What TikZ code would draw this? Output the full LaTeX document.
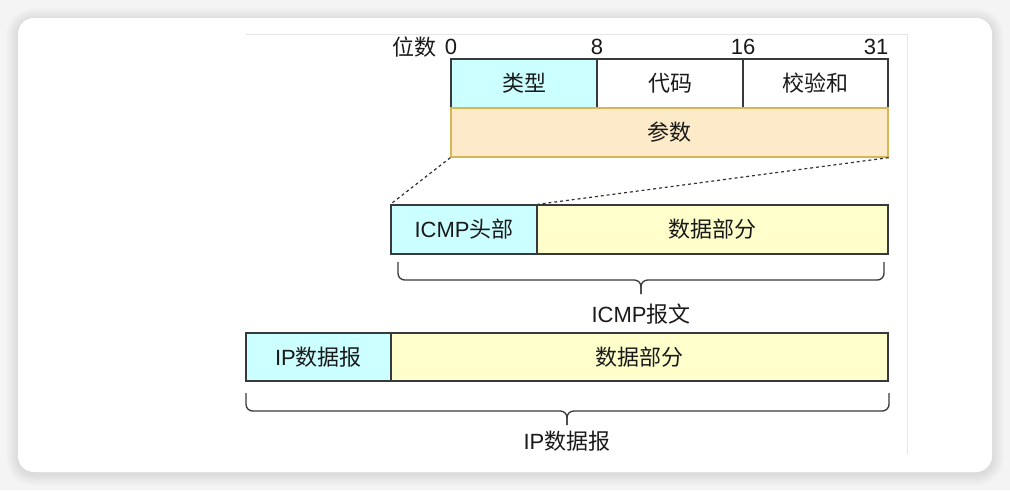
\documentclass[tikz,border=0pt]{standalone}
\usepackage{fontspec}
\setmainfont{Liberation Sans}
\newfontfamily\cjkf{Noto Sans CJK SC}
\definecolor{cyanf}{HTML}{CCFFFF}
\definecolor{yelf}{HTML}{FFFFCC}
\definecolor{peachf}{RGB}{252,234,200}
\definecolor{peachd}{HTML}{D6B656}
\definecolor{edgec}{HTML}{36393D}
\definecolor{bgc}{HTML}{F4F4F4}
\definecolor{faintc}{HTML}{E6E6E6}
\definecolor{txtc}{HTML}{1A1A1A}
\newcommand\zh[1]{{\cjkf #1}}
\begin{document}
\begin{tikzpicture}[x=0.75pt,y=-0.75pt,
  font=\fontsize{16.5}{19}\selectfont, text=txtc,
  field/.style={draw=edgec, line width=1pt, inner sep=0pt, minimum height={49*0.75pt}},
  wd/.style={minimum width={#1*0.75pt}},
  pfield/.style={field, draw=peachd, fill=peachf},
  guide/.style={draw=black!80, line width=0.9pt, dash pattern=on 2.2pt off 2.2pt},
  brace/.style={draw=edgec, line width=1pt, rounded corners=5pt},
  lbl/.style={inner sep=1pt}]
\useasboundingbox (0,0) rectangle (1010,490);
\fill[bgc] (0,0) rectangle (1010,490);
\foreach \i in {1,...,12}
  \fill[black, opacity=0.009, rounded corners={12pt+\i*0.75pt}] (18-\i,20-\i) rectangle (992+\i,474+\i);
\fill[white, rounded corners=12pt] (18,18) rectangle (992,472);
\draw[faintc, line width=0.75pt] (246,34) -- (907,34);
\draw[faintc, line width=0.75pt] (907,34) -- (907,454);

% bit labels
\node[lbl, anchor=east] (wei) at (438,47) {\zh{位数}};
\node[lbl] (b0) at (451,47) {0};
\node[lbl] (b8) at (597,47) {8};
\node[lbl] (b16) at (743,47) {16};
\node[lbl, anchor=east] (b31) at (890,47) {31};

% ICMP header fields
\node[field, wd=146, fill=cyanf] (type) at (524,83.5) {\zh{类型}};
\node[field, wd=146, fill=white] (code) at (670,83.5) {\zh{代码}};
\node[field, wd=145, fill=white] (csum) at (815.5,83.5) {\zh{校验和}};
\node[pfield, wd=437] (param) at (669.5,132.5) {\zh{参数}};

% ICMP message
\node[field, wd=146, fill=cyanf] (icmph) at (464,229.5) {ICMP\zh{头部}};
\node[field, wd=351, fill=yelf] (icmpd) at (712.5,229.5) {\zh{数据部分}};

\draw[guide] (param.south west) -- (icmph.north west);
\draw[guide] (param.south east) -- (icmph.north east);

% brace ICMP message
\draw[brace] (398,262) -- (398,280) -- (641,280) -- (641,294);
\draw[brace] (884,262) -- (884,280) -- (641,280) -- (641,294);
\node[lbl] (icmpmsg) at (641,314) {ICMP\zh{报文}};

% IP datagram
\node[field, wd=145, fill=cyanf, minimum height={48*0.75pt}] (iph) at (318.5,357) {IP\zh{数据报}};
\node[field, wd=497, fill=yelf, minimum height={48*0.75pt}] (ipd) at (639.5,357) {\zh{数据部分}};

% brace IP datagram
\draw[brace] (246,393) -- (246,411) -- (567,411) -- (567,425);
\draw[brace] (889,393) -- (889,411) -- (567,411) -- (567,425);
\node[lbl] (ipdg) at (567,441) {IP\zh{数据报}};
\end{tikzpicture}
\end{document}
